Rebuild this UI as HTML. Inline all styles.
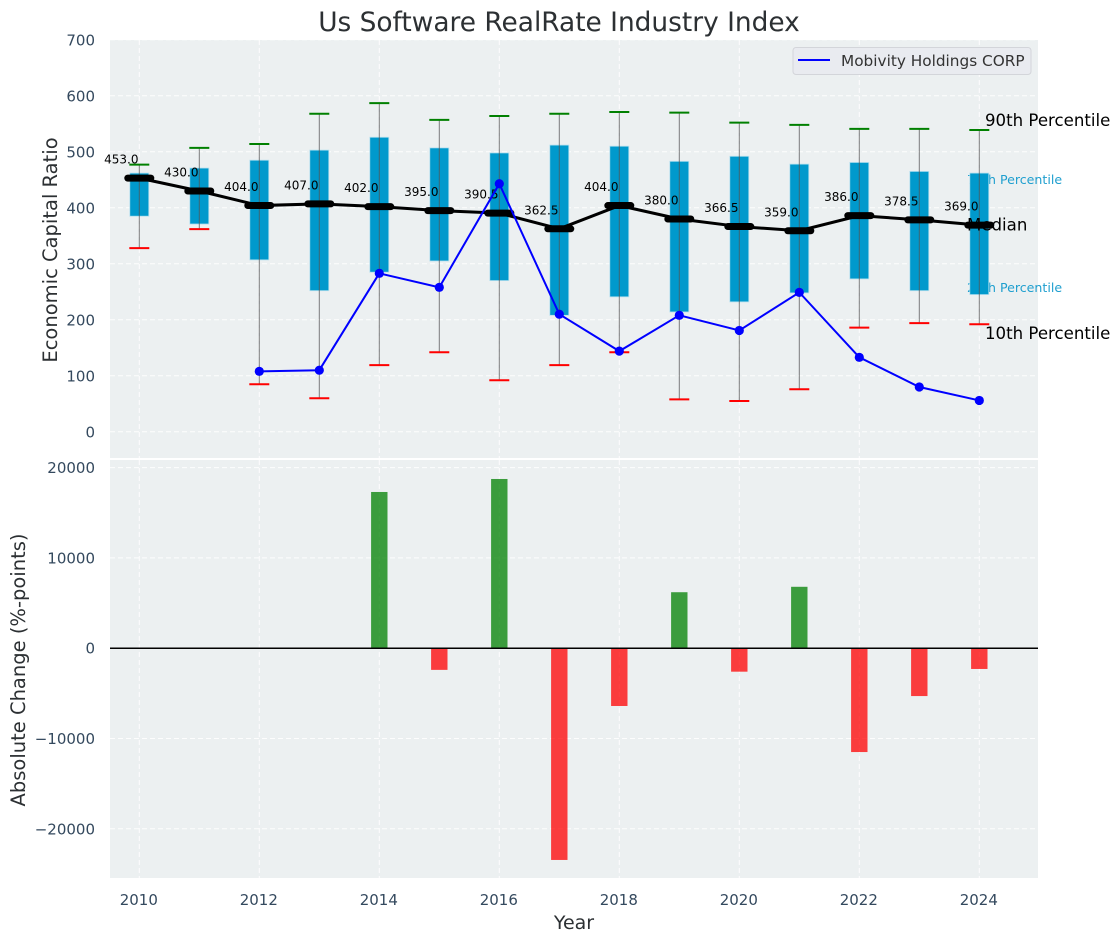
<!DOCTYPE html>
<html lang="en">
<head>
<meta charset="utf-8">
<title>Us Software RealRate Industry Index</title>
<style>
html,body{margin:0;padding:0;background:#fff;width:1120px;height:942px;overflow:hidden}
svg{display:block;font-family:"DejaVu Sans","Liberation Sans",sans-serif}
</style>
</head>
<body>
<svg id="chart" width="1120" height="942" viewBox="0 0 1120 942" xmlns="http://www.w3.org/2000/svg"></svg>
<script>
const years = [2010,2011,2012,2013,2014,2015,2016,2017,2018,2019,2020,2021,2022,2023,2024];
const p90 = [477,507,514,568,587,557,564,568,571,570,552,548,541,541,539];
const p75 = [462,471,485,503,526,507,498,512,510,483,492,478,481,465,462];
const medians = [453,430,404,407,402,395,390.5,362.5,404,380,366.5,359,386,378.5,369];
const p25 = [385,371,307,252,285,305,270,208,241,214,232,248,273,252,245];
const p10 = [328,362,85,60,119,142,92,119,142,58,55,76,186,194,192];
const companyYears = [2012,2013,2014,2015,2016,2017,2018,2019,2020,2021,2022,2023,2024];
const companyValues = [108,110,283,258,443,210,144,208,181,249,133,80,56];
const changeYears = [2014,2015,2016,2017,2018,2019,2020,2021,2022,2023,2024];
const changeValues = [17300,-2400,18740,-23450,-6400,6200,-2600,6800,-11500,-5300,-2300];
const xTicks = [2010,2012,2014,2016,2018,2020,2022,2024];
const topTicks = [0,100,200,300,400,500,600,700];
const bottomTicks = [-20000,-10000,0,10000,20000];

const NS = 'http://www.w3.org/2000/svg';
const root = document.getElementById('chart');
const xPos = v => 139.3 + (v - 2010) * 60;
const yTop = v => 431.8 - v * 0.56;
const yBot = v => 648.2 - v * 0.00903;

function mk(tag, attrs, parent, text) {
  const el = document.createElementNS(NS, tag);
  for (const k in attrs) el.setAttribute(k, attrs[k]);
  if (text !== undefined) el.textContent = text;
  (parent || root).appendChild(el);
  return el;
}
function label(str, x, y, size, fill, anchor, name) {
  const el = mk('text', {x: x, y: y, 'font-size': size, fill: fill, 'text-anchor': anchor || 'start'}, root, str);
  
  
  return el;
}
const gridStyle = {stroke: '#ffffff', 'stroke-width': 1, 'stroke-dasharray': '5 3', opacity: 0.9};

// Panels
const topPanel = mk('rect', {x: 110, y: 40, width: 928, height: 418, fill: '#ecf0f1'});


const botPanel = mk('rect', {x: 110, y: 460, width: 928, height: 418, fill: '#ecf0f1'});



// Grid
topTicks.forEach(t => {
  const g = mk('line', Object.assign({x1: 110, x2: 1038, y1: yTop(t), y2: yTop(t)}, gridStyle));
  
  
  label(String(t), 95, yTop(t) + 5.5, 15, '#34495e', 'end', 'top-y-tick-label');
});
bottomTicks.forEach(t => {
  const g = mk('line', Object.assign({x1: 110, x2: 1038, y1: yBot(t), y2: yBot(t)}, gridStyle));
  
  
  label(String(t).replace('-', '\u2212'), 95, yBot(t) + 5.5, 15, '#34495e', 'end', 'bottom-y-tick-label');
});
xTicks.forEach(t => {
  const g1 = mk('line', Object.assign({x1: xPos(t), x2: xPos(t), y1: 40, y2: 458}, gridStyle));
  
  
  const g2 = mk('line', Object.assign({x1: xPos(t), x2: xPos(t), y1: 460, y2: 878}, gridStyle));
  
  
  label(String(t), xPos(t) - 0.5, 905, 15, '#34495e', 'middle', 'x-tick-label');
});

// Faint annotations sit beneath the boxes
label('75th Percentile', 967, 184, 12.6, '#1f9fcf', 'start', 'annotation-75th-percentile');
label('25th Percentile', 967, 292, 12.6, '#1f9fcf', 'start', 'annotation-25th-percentile');

// Box-and-whisker marks
years.forEach((yr, i) => {
  const x = xPos(yr);
  const box = mk('rect', {x: x - 9.5, y: yTop(p75[i]), width: 19, height: yTop(p25[i]) - yTop(p75[i]), fill: '#0099cc', stroke: '#b5dfee', 'stroke-width': 0.8});
  
  
  const wh = mk('line', {x1: x, x2: x, y1: yTop(p90[i]), y2: yTop(p10[i]), stroke: '#555555', 'stroke-width': 1, opacity: 0.75});
  
  
  const hi = mk('line', {x1: x - 10, x2: x + 10, y1: yTop(p90[i]), y2: yTop(p90[i]), stroke: '#008000', 'stroke-width': 2});
  
  
  const lo = mk('line', {x1: x - 10, x2: x + 10, y1: yTop(p10[i]), y2: yTop(p10[i]), stroke: '#ff0000', 'stroke-width': 2});
  
  
});

// Median line
const medLine = mk('polyline', {points: years.map((yr, i) => xPos(yr) + ',' + yTop(medians[i])).join(' '), fill: 'none', stroke: '#000000', 'stroke-width': 3});


years.forEach((yr, i) => {
  const x = xPos(yr), y = yTop(medians[i]);
  const m = mk('line', {x1: x - 11.5, x2: x + 11.5, y1: y, y2: y, stroke: '#000000', 'stroke-width': 7, 'stroke-linecap': 'round'});
  
  
  label(medians[i].toFixed(1), x - 0.8, y - 14.5, 12, '#000000', 'end', 'median-value-label');
});

// Black annotations sit above the boxes
label('90th Percentile', 985, 126, 16.6, '#000000', 'start', 'annotation-90th-percentile');
label('Median', 967, 230.5, 16.6, '#000000', 'start', 'annotation-median');
label('10th Percentile', 985, 339, 16.6, '#000000', 'start', 'annotation-10th-percentile');

// Company series
const compLine = mk('polyline', {points: companyYears.map((yr, i) => xPos(yr) + ',' + yTop(companyValues[i])).join(' '), fill: 'none', stroke: '#0000ff', 'stroke-width': 2});


companyYears.forEach((yr, i) => {
  const p = mk('circle', {cx: xPos(yr), cy: yTop(companyValues[i]), r: 4.6, fill: '#0000ff'});
  
  
});

// Absolute change bars
changeYears.forEach((yr, i) => {
  const v = changeValues[i];
  const y0 = yBot(0), y1 = yBot(v);
  const b = mk('rect', {x: xPos(yr) - 8.2, y: Math.min(y0, y1), width: 16.4, height: Math.abs(y1 - y0), fill: v >= 0 ? '#008000' : '#ff0000', 'fill-opacity': 0.75});
  
  
});
const zero = mk('line', {x1: 110, x2: 1038, y1: yBot(0), y2: yBot(0), stroke: '#000000', 'stroke-width': 1.5});



// Legend
const legendBox = mk('rect', {x: 793, y: 47.5, width: 238, height: 27, rx: 3, fill: '#e9ebf0', stroke: '#d3d5da', 'stroke-width': 1});


const legendLine = mk('line', {x1: 798, x2: 830, y1: 60, y2: 60, stroke: '#0000ff', 'stroke-width': 2});


label('Mobivity Holdings CORP', 841, 66, 15.3, '#333333', 'start', 'legend-label');

// Titles
label('Us Software RealRate Industry Index', 559, 31, 26.4, '#2c3033', 'middle', 'chart-title');
label('Year', 574, 929, 19, '#2c3033', 'middle', 'x-axis-title');
const t1 = label('Economic Capital Ratio', 0, 0, 19.5, '#2c3033', 'middle', 'top-y-axis-title');
t1.setAttribute('transform', 'translate(57 250) rotate(-90)');
const t2 = label('Absolute Change (%-points)', 0, 0, 19.5, '#2c3033', 'middle', 'bottom-y-axis-title');
t2.setAttribute('transform', 'translate(25 670) rotate(-90)');
</script>
</body>
</html>
